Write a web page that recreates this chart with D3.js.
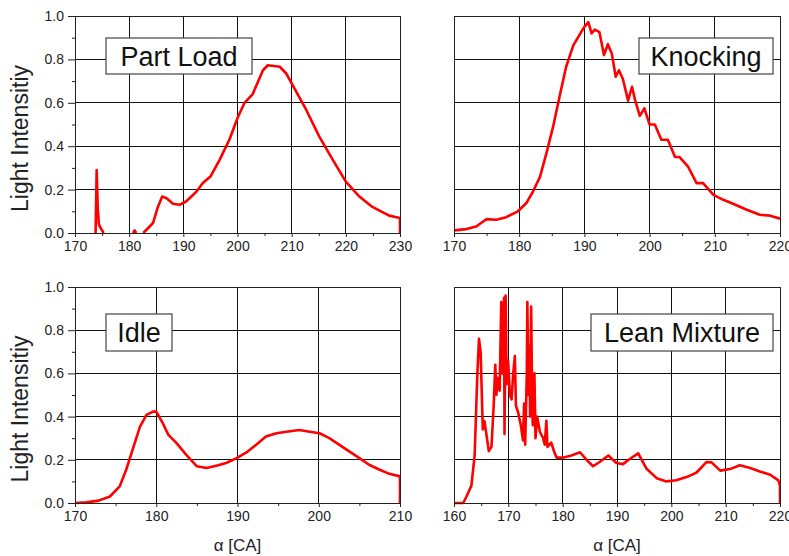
<!DOCTYPE html>
<html>
<head>
<meta charset="utf-8">
<style>
body { margin: 0; background: #fff; }
text { font-family: "Liberation Sans", Arial, sans-serif; }
</style>
<script src="https://d3js.org/d3.v7.min.js"></script>
</head>
<body>
<script>
  const width = 789;
  const height = 556;

  // Light intensity vs crank angle ([deg CA, intensity]); null = gap
  const partLoad = [
    [173.8,0],[174.0,0.29],[174.2,0.12],[174.4,0.04],[174.8,0.02],[175.3,0.0],[175.4,null],
    [180.7,0.0],[181.0,0.012],[181.3,0.0],[181.4,null],
    [182.6,0.0],[183.2,0.015],[184.4,0.046],[185.3,0.12],[186.1,0.168],[186.9,0.16],[188.1,0.135],
    [189.3,0.13],[190.5,0.145],[192.4,0.19],[193.6,0.23],[195,0.26],[196.7,0.337],[198.5,0.43],
    [200,0.53],[201.3,0.6],[202.8,0.64],[204.7,0.75],[205.6,0.773],[207.8,0.766],[209,0.735],
    [210,0.69],[212.7,0.567],[215.1,0.444],[217.6,0.337],[220,0.237],[222.5,0.168],[224.9,0.12],
    [228,0.08],[230,0.069],[230,0]
  ];
  const knocking = [
    [170,0.012],[171.9,0.018],[173.4,0.03],[175,0.064],[176.5,0.061],[178,0.073],[179.8,0.1],
    [181.1,0.138],[182.1,0.19],[183.2,0.26],[184.2,0.37],[185.2,0.49],[186.2,0.63],[187.2,0.766],
    [188.3,0.865],[189.5,0.926],[190,0.95],[190.6,0.972],[191.1,0.92],[191.6,0.937],[192.3,0.926],
    [193,0.82],[193.6,0.87],[194.2,0.827],[194.8,0.72],[195.3,0.75],[195.9,0.71],[196.7,0.61],
    [197.3,0.674],[197.8,0.61],[198.5,0.54],[199.2,0.574],[200,0.5],[200.8,0.5],[201.8,0.43],
    [202.8,0.43],[203.9,0.35],[204.6,0.35],[205.9,0.306],[207.2,0.23],[208.2,0.23],[209.8,0.176],
    [211.3,0.153],[212.8,0.135],[214.9,0.107],[216.9,0.084],[218.5,0.08],[220,0.066]
  ];
  const idle = [
    [170,0],[171.4,0.003],[172.9,0.011],[174.3,0.03],[175.5,0.077],[176.3,0.154],[177.2,0.26],
    [178,0.354],[178.8,0.408],[179.6,0.423],[180,0.423],[180.8,0.37],[181.5,0.315],[182.5,0.277],
    [183.7,0.223],[185,0.17],[186.2,0.162],[187.4,0.172],[188.6,0.185],[189.9,0.208],[191.1,0.234],
    [192.3,0.27],[193.5,0.308],[194.8,0.323],[196,0.33],[197.6,0.338],[198.9,0.33],[200.1,0.323],
    [201.3,0.3],[202.5,0.27],[203.8,0.238],[205,0.208],[206.2,0.177],[207.5,0.154],[208.7,0.135],
    [210,0.123],[210,0]
  ];
  const leanMixture = [
    [160,0],[161.7,0],[162.3,0.03],[163.2,0.08],[163.8,0.22],[164.3,0.6],[164.6,0.76],[164.9,0.7],
    [165.3,0.34],[165.6,0.38],[165.9,0.33],[166.4,0.24],[166.9,0.26],[167.3,0.45],[167.6,0.64],
    [167.8,0.5],[168.1,0.58],[168.4,0.52],[168.7,0.93],[168.9,0.6],[169.2,0.95],[169.3,0.32],
    [169.5,0.96],[169.7,0.55],[169.95,0.66],[170.3,0.5],[170.6,0.48],[170.9,0.6],[171.2,0.68],
    [171.4,0.45],[171.8,0.42],[172.3,0.36],[172.7,0.29],[172.9,0.46],[173.1,0.27],[173.4,0.6],
    [173.5,0.93],[173.7,0.5],[173.9,0.73],[174.0,0.4],[174.2,0.91],[174.4,0.45],[174.5,0.36],
    [174.8,0.6],[175.0,0.3],[175.3,0.4],[175.8,0.33],[176.4,0.3],[176.7,0.27],[177.0,0.38],
    [177.2,0.26],[177.9,0.28],[178.4,0.24],[178.9,0.21],[180,0.21],[181.6,0.22],[183.2,0.235],
    [184.4,0.2],[185.6,0.17],[186.8,0.19],[188.4,0.22],[189.9,0.185],[191.1,0.18],[192.4,0.205],
    [193.9,0.23],[195.4,0.16],[197.3,0.115],[199.1,0.1],[200.9,0.105],[202.8,0.12],[204.6,0.14],
    [206.5,0.19],[207.4,0.188],[209,0.15],[210.8,0.157],[212.6,0.175],[214.5,0.162],[216.3,0.146],
    [218.2,0.131],[219.7,0.105],[220,0.08],[220,0]
  ];

  const yTicks = [0, 0.2, 0.4, 0.6, 0.8, 1.0];
  const yMinor = [0.1, 0.3, 0.5, 0.7, 0.9];
  const yTitle = "Light Intensitiy";
  const xTitle = "\u03b1 [CA]";

  const panels = [
    { name: "Part Load", data: partLoad, xDomain: [170, 230],
      left: 75, right: 400, top: 16, bottom: 233, yAxis: true, xTitle: false,
      box: { x: 106, y: 38, w: 146, h: 36 } },
    { name: "Knocking", data: knocking, xDomain: [170, 220],
      left: 454, right: 780, top: 16, bottom: 233, yAxis: false, xTitle: false,
      box: { x: 639, y: 38, w: 134, h: 36 } },
    { name: "Idle", data: idle, xDomain: [170, 210],
      left: 75, right: 400, top: 287, bottom: 503, yAxis: true, xTitle: true,
      box: { x: 106, y: 314, w: 66, h: 37 } },
    { name: "Lean Mixture", data: leanMixture, xDomain: [160, 220],
      left: 454, right: 780, top: 287, bottom: 503, yAxis: false, xTitle: true,
      box: { x: 591, y: 314, w: 182, h: 37 } }
  ];

  var svg = d3.select("body")
    .append("svg")
    .attr("width", width)
    .attr("height", height);

  panels.forEach(function(p, i) {
    var x = d3.scaleLinear().domain(p.xDomain).range([p.left, p.right]);
    var y = d3.scaleLinear().domain([0, 1]).range([p.bottom, p.top]);
    var xMajor = d3.range(p.xDomain[0], p.xDomain[1] + 1, 10);
    var xMinor = d3.range(p.xDomain[0] + 5, p.xDomain[1], 10);

    var g = svg.append("g");

    // grid
    g.selectAll(".vg").data(xMajor).enter().append("line")
      .attr("x1", function(d) { return x(d); }).attr("x2", function(d) { return x(d); })
      .attr("y1", p.top).attr("y2", p.bottom)
      .attr("stroke", "#111").attr("stroke-width", 1).attr("shape-rendering", "crispEdges");
    g.selectAll(".hg").data(yTicks).enter().append("line")
      .attr("x1", p.left).attr("x2", p.right)
      .attr("y1", function(d) { return y(d); }).attr("y2", function(d) { return y(d); })
      .attr("stroke", "#111").attr("stroke-width", 1).attr("shape-rendering", "crispEdges");

    // curve
    g.append("clipPath").attr("id", "clip" + i)
      .append("rect")
      .attr("x", p.left).attr("y", p.top - 2)
      .attr("width", p.right - p.left).attr("height", p.bottom - p.top + 4);

    var line = d3.line()
      .defined(function(d) { return d[1] !== null; })
      .x(function(d) { return x(d[0]); })
      .y(function(d) { return y(d[1]); });

    g.append("path")
      .datum(p.data)
      .attr("clip-path", "url(#clip" + i + ")")
      .attr("fill", "none")
      .attr("stroke", "#ff0000")
      .attr("stroke-width", 2.6)
      .attr("stroke-linejoin", "round")
      .attr("d", line);

    // x axis
    var xAxis = g.append("g")
      .attr("transform", "translate(0," + p.bottom + ")")
      .call(d3.axisBottom(x).tickValues(xMajor).tickSize(4).tickPadding(4)
        .tickFormat(d3.format("d")));
    g.append("g")
      .attr("transform", "translate(0," + p.bottom + ")")
      .call(d3.axisBottom(x).tickValues(xMinor).tickSize(3).tickFormat(""))
      .select(".domain").remove();
    xAxis.selectAll("text")
      .attr("font-size", 14).attr("fill", "#222")
      .attr("font-family", "'Liberation Sans', Arial, sans-serif");

    if (p.yAxis) {
      var yAxis = g.append("g")
        .attr("transform", "translate(" + p.left + ",0)")
        .call(d3.axisLeft(y).tickValues(yTicks).tickSize(7).tickPadding(4)
          .tickFormat(d3.format(".1f")));
      g.append("g")
        .attr("transform", "translate(" + p.left + ",0)")
        .call(d3.axisLeft(y).tickValues(yMinor).tickSize(3).tickFormat(""))
        .select(".domain").remove();
      yAxis.selectAll("text")
        .attr("font-size", 14).attr("fill", "#222")
        .attr("font-family", "'Liberation Sans', Arial, sans-serif");

      svg.append("text")
        .attr("transform", "translate(28," + ((p.top + p.bottom) / 2 + 14) + ") rotate(-90)")
        .attr("text-anchor", "middle")
        .attr("font-size", 23)
        .attr("fill", "#222")
        .text(yTitle);
    }

    // frame
    g.append("rect")
      .attr("x", p.left).attr("y", p.top)
      .attr("width", p.right - p.left).attr("height", p.bottom - p.top)
      .attr("fill", "none").attr("stroke", "#222").attr("stroke-width", 1)
      .attr("shape-rendering", "crispEdges");
    g.selectAll(".domain").attr("stroke", "#222");
    g.selectAll(".tick line").attr("stroke", "#222");

    if (p.xTitle) {
      svg.append("text")
        .attr("x", (p.left + p.right) / 2)
        .attr("y", 551)
        .attr("text-anchor", "middle")
        .attr("font-size", 17)
        .attr("fill", "#222")
        .text(xTitle);
    }

    // label box
    g.append("rect")
      .attr("x", p.box.x).attr("y", p.box.y)
      .attr("width", p.box.w).attr("height", p.box.h)
      .attr("fill", "#fff").attr("stroke", "#444").attr("stroke-width", 1.2);
    g.append("text")
      .attr("x", p.box.x + p.box.w / 2)
      .attr("y", p.box.y + 28)
      .attr("text-anchor", "middle")
      .attr("font-size", 27)
      .attr("fill", "#111")
      .text(p.name);
  });
</script>
</body>
</html>
